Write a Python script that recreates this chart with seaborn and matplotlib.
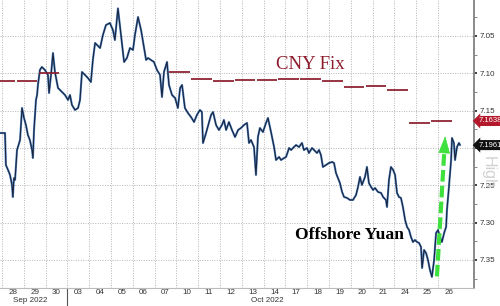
import numpy as np
import pandas as pd
import matplotlib
matplotlib.use("Agg")
import matplotlib.pyplot as plt
import matplotlib.transforms as mtransforms
import seaborn as sns

# ---------------- data ----------------
day_labels = ["28", "29", "30", "03", "04", "05", "06", "07", "10", "11", "12",
              "13", "14", "17", "18", "19", "20", "21", "24", "25", "26"]
month_labels = ["Sep 2022", "Oct 2022"]
month_label_pos = [0.5, 11.4]

# offshore yuan, time in trading-day units (day i spans [i, i+1])
yuan_t = [-0.09, 0.14, 0.18, 0.28, 0.37, 0.46, 0.50, 0.55, 0.60, 0.69, 0.83, 0.92,
          1.01, 1.10, 1.19, 1.28, 1.38, 1.42, 1.47, 1.56, 1.61, 1.65, 1.74, 1.83,
          1.97, 2.11, 2.16, 2.25, 2.34, 2.43, 2.57, 2.75, 2.89, 3.03, 3.12, 3.21,
          3.35, 3.49, 3.58, 3.67, 3.81, 3.94, 4.08, 4.17, 4.27, 4.36, 4.50, 4.63,
          4.77, 4.95, 5.09, 5.18, 5.32, 5.46, 5.60, 5.73, 5.87, 6.01, 6.10, 6.24,
          6.38, 6.47, 6.61, 6.70, 6.83, 6.97, 7.11, 7.25, 7.34, 7.43, 7.57, 7.66,
          7.80, 7.94, 8.07, 8.17, 8.26, 8.39, 8.53, 8.67, 8.81, 8.94, 9.08, 9.17,
          9.22, 9.36, 9.50, 9.59, 9.68, 9.82, 9.95, 10.09, 10.18, 10.28, 10.41,
          10.55, 10.69, 10.83, 10.96, 11.10, 11.24, 11.33, 11.42, 11.56, 11.65,
          11.74, 11.83, 11.97, 12.11, 12.20, 12.34, 12.48, 12.57, 12.71, 12.80,
          12.94, 13.03, 13.17, 13.26, 13.39, 13.49, 13.62, 13.76, 13.85, 13.99,
          14.08, 14.22, 14.31, 14.45, 14.54, 14.63, 14.72, 14.86, 15.00, 15.14,
          15.23, 15.32, 15.41, 15.50, 15.60, 15.69, 15.83, 15.96, 16.10, 16.24,
          16.33, 16.42, 16.51, 16.65, 16.74, 16.83, 16.93, 17.02, 17.11, 17.25,
          17.39, 17.48, 17.61, 17.66, 17.75, 17.84, 17.94, 18.03, 18.12, 18.21,
          18.30, 18.39, 18.49, 18.58, 18.67, 18.76, 18.85, 18.94, 19.04, 19.13,
          19.22, 19.27, 19.36, 19.45, 19.54, 19.63, 19.72, 19.82, 19.91, 20.00,
          20.09, 20.18, 20.28, 20.37, 20.41, 20.50, 20.60, 20.64, 20.73, 20.78,
          20.87, 20.96, 21.01]
yuan_p = [7.1799, 7.1799, 7.2228, 7.2295, 7.2361, 7.2495, 7.2656, 7.2402, 7.2428,
          7.2027, 7.1893, 7.1464, 7.1598, 7.1692, 7.1826, 7.1893, 7.2027, 7.2134,
          7.1759, 7.1357, 7.1290, 7.1156, 7.0955, 7.0915, 7.0955, 7.1022, 7.1263,
          7.1022, 7.0728, 7.0982, 7.1196, 7.1250, 7.1290, 7.1357, 7.1290, 7.1424,
          7.1491, 7.1464, 7.1357, 7.0982, 7.1022, 7.1062, 7.1116, 7.0821, 7.0594,
          7.0621, 7.0661, 7.0487, 7.0353, 7.0326, 7.0420, 7.0554, 7.0130, 7.0487,
          7.0848, 7.0795, 7.0661, 7.0687, 7.0487, 7.0246, 7.0420, 7.0580, 7.0821,
          7.0795, 7.0821, 7.0848, 7.0955, 7.1022, 7.1317, 7.0982, 7.0848, 7.1156,
          7.1290, 7.1330, 7.1464, 7.1196, 7.1156, 7.1464, 7.1531, 7.1585, 7.1652,
          7.1558, 7.1491, 7.1518, 7.1933, 7.1799, 7.1652, 7.1558, 7.1518, 7.1692,
          7.1759, 7.1692, 7.1625, 7.1759, 7.1652, 7.1759, 7.1853, 7.1759, 7.1732,
          7.1692, 7.1665, 7.1933, 7.1893, 7.1987, 7.2361, 7.1853, 7.1732, 7.1786,
          7.1665, 7.1598, 7.1786, 7.1987, 7.2161, 7.2120, 7.2161, 7.2134, 7.2120,
          7.2000, 7.2027, 7.1987, 7.1960, 7.1987, 7.1933, 7.2027, 7.2000, 7.2067,
          7.2000, 7.2027, 7.2067, 7.2027, 7.2094, 7.2254, 7.2228, 7.2201, 7.2187,
          7.2201, 7.2335, 7.2402, 7.2469, 7.2589, 7.2656, 7.2669, 7.2696, 7.2696,
          7.2629, 7.2522, 7.2388, 7.2495, 7.2388, 7.2254, 7.2469, 7.2522, 7.2562,
          7.2536, 7.2589, 7.2603, 7.2656, 7.2696, 7.2790, 7.2428, 7.2254, 7.2294,
          7.2361, 7.2603, 7.2656, 7.2669, 7.2790, 7.2964, 7.3058, 7.3098, 7.3192,
          7.3259, 7.3232, 7.3259, 7.3272, 7.3326, 7.3607, 7.3366, 7.3406, 7.3500,
          7.3634, 7.3727, 7.3500, 7.3138, 7.3098, 7.3192, 7.3259, 7.3138, 7.3058,
          7.2830, 7.2522, 7.2161, 7.1866, 7.1933, 7.2161, 7.1987, 7.1933, 7.1961]

# CNY fix segments (start, end in trading-day units) and values
fix_start = [-0.35, 0.65, 1.65, 7.65, 8.65, 9.65, 10.65, 11.65, 12.65, 13.65,
             14.65, 15.65, 16.65, 17.65, 18.65, 19.65]
fix_end = [0.65, 1.65, 2.65, 8.65, 9.65, 10.65, 11.65, 12.65, 13.65, 14.65,
           15.65, 16.65, 17.65, 18.65, 19.65, 20.65]
fix_val = [7.1100, 7.1099, 7.0989, 7.0982, 7.1076, 7.1099, 7.1095, 7.1089, 7.1076,
           7.1072, 7.1099, 7.1179, 7.1170, 7.1223, 7.1661, 7.1638]

last_fix = 7.1638
last_yuan = 7.1961

# green arrow (annotation): tail and tip
arrow_tail = (19.95, 7.372)
arrow_body_end = (20.29, 7.203)
arrow_tip = (20.33, 7.184)

# ---------------- style ----------------
sns.set_theme(style="white")
plt.rcParams["font.family"] = ["Liberation Sans", "DejaVu Sans"]

W, H = 500, 306
fig = plt.figure(figsize=(W / 100, H / 100), dpi=100)
ax = fig.add_axes([0, 1 - 288 / H, 474 / W, 288 / H])
ax.set_facecolor("white")

# grid
for k in range(0, 21):
    ax.axvline(k, color="#b5b5b5", lw=0.7, ls=(0, (1, 1.5)), zorder=0)
for yv in np.arange(7.05, 7.36, 0.05):
    ax.axhline(yv, color="#b5b5b5", lw=0.7, ls=(0, (1, 1.5)), zorder=0)

df = pd.DataFrame({"t": yuan_t, "p": yuan_p})
sns.lineplot(data=df, x="t", y="p", ax=ax, sort=False, estimator=None,
             color="#4a7fbf", lw=1.5, zorder=3)
sns.lineplot(data=df, x="t", y="p", ax=ax, sort=False, estimator=None,
             color="#1a2238", lw=0.75, zorder=4)

# CNY fix segments
ax.hlines(fix_val, [s + 0.03 for s in fix_start], [e - 0.03 for e in fix_end],
          color="#8c1c2c", lw=1.25, zorder=5)

# green dashed arrow
ax.plot([arrow_tail[0], arrow_body_end[0]], [arrow_tail[1], arrow_body_end[1]],
        color="#3ee03e", lw=3.0, ls=(0, (2.8, 1.0)), zorder=6, solid_capstyle="butt")
ax.annotate("", xy=arrow_tip, xytext=arrow_body_end,
            arrowprops=dict(arrowstyle="-|>,head_length=0.95,head_width=0.32",
                            color="#3ee03e", lw=0.5, shrinkA=0, shrinkB=0),
            zorder=7)

# texts
ax.text(14.15, 7.088, "CNY Fix", color="#8c1c2c", fontsize=13.5,
        family=["Liberation Serif"], ha="center", va="center", zorder=8)
ax.text(15.95, 7.3165, "Offshore Yuan", color="black", fontsize=12.6, weight="bold",
        family=["Liberation Serif"], ha="center", va="center", zorder=8)

# axes limits
ax.set_xlim(-0.09, 21.65)
ax.set_ylim(7.3875, 7.0018)

# y axis right
ax.yaxis.tick_right()
ax.set_yticks(np.round(np.arange(7.05, 7.36, 0.05), 2))
ax.set_yticklabels([f"{v:.2f}" for v in np.arange(7.05, 7.36, 0.05)])
ax.set_yticks(np.round(np.arange(7.025, 7.39, 0.05), 3), minor=True)
ax.tick_params(axis="y", which="major", right=True, length=2.5, width=1.2,
               color="#222222", pad=1.5, labelsize=5.8, labelcolor="#333333")
ax.tick_params(axis="y", which="minor", right=True, length=2, width=0.7,
               color="#888888")
ax.set_ylabel("")
ax.set_xlabel("")

# x axis
ax.set_xticks([k + 0.5 for k in range(len(day_labels))])
ax.set_xticklabels(day_labels)
ax.tick_params(axis="x", length=0, pad=0.8, labelsize=5.8, labelcolor="#333333")

for s in ["top", "left"]:
    ax.spines[s].set_visible(False)
ax.spines["right"].set_color("#8a8a8a")
ax.spines["right"].set_linewidth(1.4)
ax.spines["bottom"].set_color("#bbbbbb")
ax.spines["bottom"].set_linewidth(0.8)

trans = mtransforms.blended_transform_factory(ax.transData, ax.transAxes)
for lab, pos in zip(month_labels, month_label_pos):
    ax.text(pos, -(300.5 - 288) / 288, lab, transform=trans, ha="left", va="center",
            fontsize=5.8, color="#333333")
ax.plot([3, 3], [0, -0.07], transform=trans, color="#555555", lw=0.8, clip_on=False)

# value boxes on right axis
ytrans = mtransforms.blended_transform_factory(ax.transAxes, ax.transData)
ax.annotate(f"{last_fix:.4f}", xy=(1.0, last_fix), xycoords=ytrans,
            xytext=(3, 0), textcoords="offset points", ha="left", va="center",
            fontsize=5.5, color="white", zorder=10, annotation_clip=False,
            bbox=dict(boxstyle="larrow,pad=0.2", fc="#b3182c", ec="none"))
ax.annotate(f"{last_yuan:.4f}", xy=(1.0, last_yuan), xycoords=ytrans,
            xytext=(3, 0), textcoords="offset points", ha="left", va="center",
            fontsize=5.5, color="white", zorder=10, annotation_clip=False,
            bbox=dict(boxstyle="larrow,pad=0.2", fc="#111111", ec="none"))

fig.text(488 / W, 1 - 172 / H, "High", rotation=-90, fontsize=11.5, color="#d2d2d2",
         ha="center", va="center", zorder=0)

fig.savefig("out.png", dpi=100, facecolor="white")
